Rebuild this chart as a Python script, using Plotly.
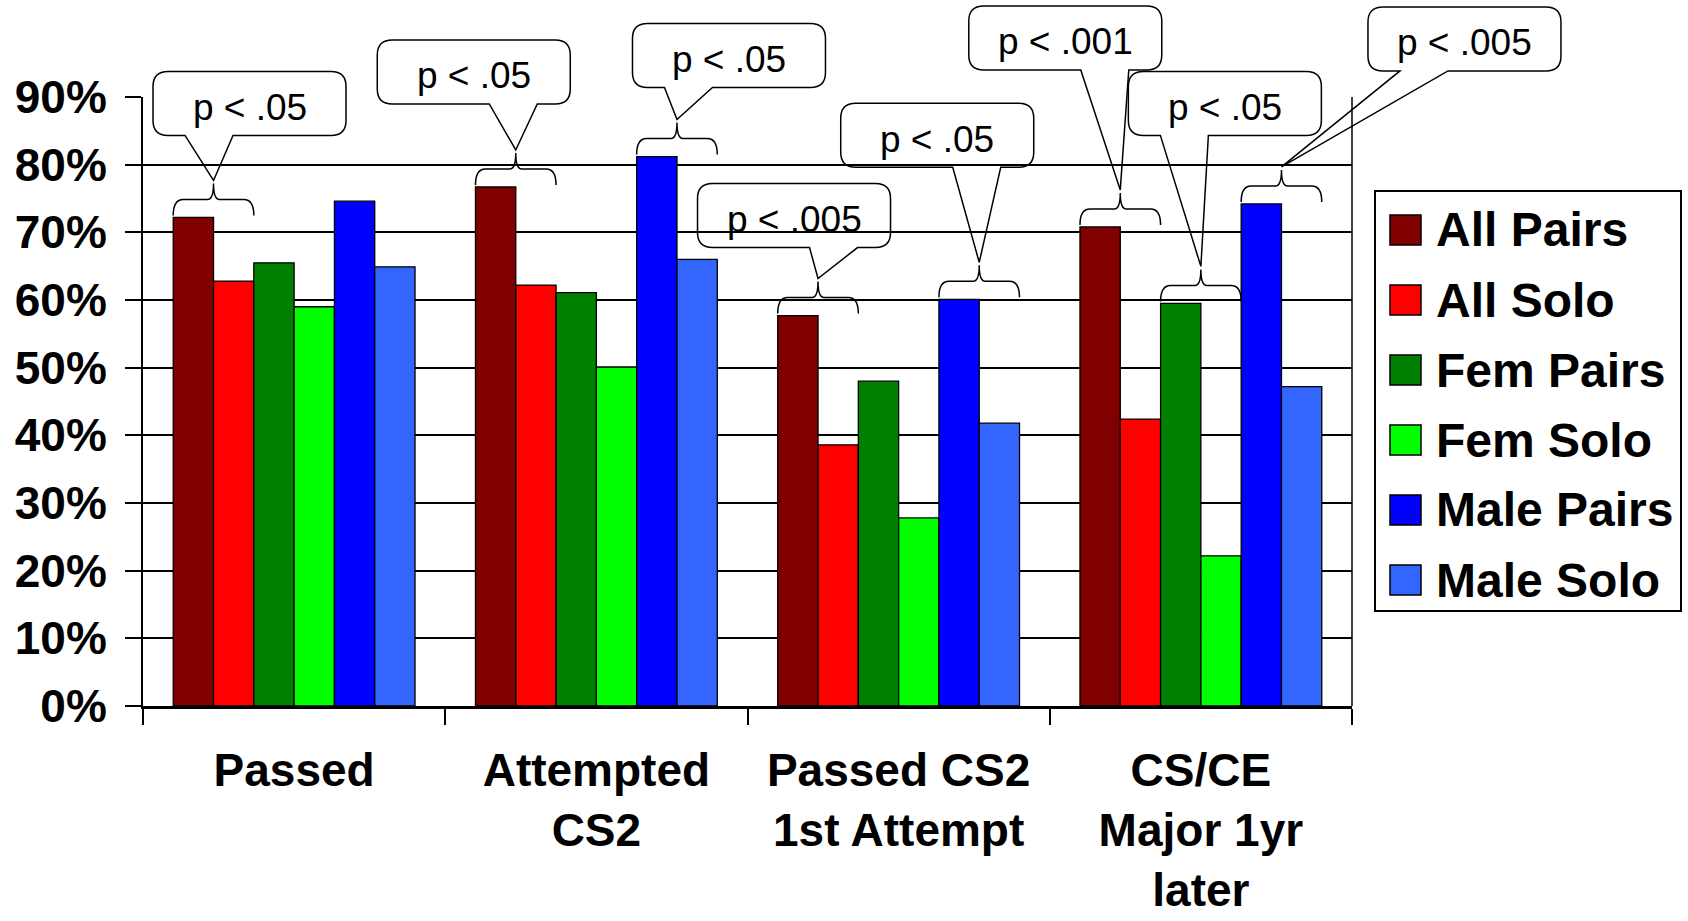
import plotly.graph_objects as go

# ---------------- data ----------------
categories = ["Passed", "Attempted<br>CS2", "Passed CS2<br>1st Attempt", "CS/CE<br>Major 1yr<br>later"]
series_names = ["All Pairs", "All Solo", "Fem Pairs", "Fem Solo", "Male Pairs", "Male Solo"]
all_pairs = [72.2, 76.7, 57.7, 70.8]
all_solo = [62.8, 62.2, 38.6, 42.4]
fem_pairs = [65.5, 61.1, 48.0, 59.5]
fem_solo = [59.0, 50.1, 27.8, 22.2]
male_pairs = [74.6, 81.2, 60.1, 74.2]
male_solo = [64.9, 66.0, 41.8, 47.2]
series_colors = ["#800000", "#FF0000", "#008000", "#00FF00", "#0000FF", "#3366FF"]
y_tick_values = [0, 10, 20, 30, 40, 50, 60, 70, 80, 90]
y_tick_labels = ["0%", "10%", "20%", "30%", "40%", "50%", "60%", "70%", "80%", "90%"]

# significance callouts: category index, first bar of the bracketed pair, label
sig_category = [0, 1, 1, 2, 2, 3, 3, 3]
sig_first_bar = [0, 0, 4, 0, 4, 0, 2, 4]
sig_labels = ["p < .05", "p < .05", "p < .05", "p < .005", "p < .05", "p < .001", "p < .05", "p < .005"]
# callout box offset from the brace tip (pixels) and pointer side
sig_box_dx = [36, -42, 52, -24, -42, -55, 24, 183]
sig_box_dy = [-80, -81, -67, -66, -130, -155, -166, -131]
sig_pointer_side = ["L", "R", "L", "R", "R", "R", "L", "L"]

series_values = [all_pairs, all_solo, fem_pairs, fem_solo, male_pairs, male_solo]

# ---------------- layout geometry ----------------
W, H = 1688, 921
ML, MR, MT, MB = 143, 336, 97, 215
PW, PH = W - ML - MR, H - MT - MB
Y_MAX = 90
BARGAP = 0.2
FONT = "Liberation Sans, Arial, sans-serif"

fig = go.Figure()
for name, vals, col in zip(series_names, series_values, series_colors):
    fig.add_trace(go.Bar(
        name=name, x=categories, y=vals,
        marker=dict(color=col, line=dict(color="black", width=1.3)),
        showlegend=False, hoverinfo="x+y+name",
    ))

# helpers: data -> pixel -> paper
ncat = len(categories)
cat_w = PW / ncat
nser = len(series_names)
bar_w = cat_w * (1 - BARGAP) / nser


def bar_center_px(ci, bj):
    return ML + (ci + 0.5) * cat_w - cat_w * (1 - BARGAP) / 2 + (bj + 0.5) * bar_w


def val_px(v):
    return MT + PH - v / Y_MAX * PH


def P(x, y):
    return f"{(x - ML) / PW:.5f},{(MT + PH - y) / PH:.5f}"


def px_x(x):
    return (x - ML) / PW


def px_y(y):
    return (MT + PH - y) / PH


shapes = []
annotations = []
LW = 1.5
BOX_W, BOX_H, RAD = 193, 64, 15
BRACE_H = 32

for ci, bj, lab, dx, dy, side in zip(sig_category, sig_first_bar, sig_labels,
                                       sig_box_dx, sig_box_dy, sig_pointer_side):
    top_val = max(series_values[bj][ci], series_values[bj + 1][ci])
    yb = val_px(top_val) - 2
    cx = (bar_center_px(ci, bj) + bar_center_px(ci, bj + 1)) / 2
    hw = bar_w
    ym = yb - BRACE_H / 2
    ytip = yb - BRACE_H
    brace = (f"M{P(cx - hw, yb)} Q{P(cx - hw, ym)} {P(cx - hw + 10, ym)} "
             f"L{P(cx - 6, ym)} Q{P(cx, ym)} {P(cx, ytip)} "
             f"Q{P(cx, ym)} {P(cx + 6, ym)} L{P(cx + hw - 10, ym)} "
             f"Q{P(cx + hw, ym)} {P(cx + hw, yb)}")
    shapes.append(dict(type="path", path=brace, xref="paper", yref="paper",
                       line=dict(color="black", width=LW)))
    # callout
    bx, by = cx + dx, ytip + dy
    L, R = bx - BOX_W / 2, bx + BOX_W / 2
    T, B = by - BOX_H / 2, by + BOX_H / 2
    off = 32 if side == "L" else 112
    b1, b2 = L + off, L + off + 48
    tx, ty = cx, ytip - 3
    call = (f"M{P(L + RAD, T)} L{P(R - RAD, T)} Q{P(R, T)} {P(R, T + RAD)} "
            f"L{P(R, B - RAD)} Q{P(R, B)} {P(R - RAD, B)} L{P(b2, B)} "
            f"L{P(tx, ty)} L{P(b1, B)} L{P(L + RAD, B)} Q{P(L, B)} {P(L, B - RAD)} "
            f"L{P(L, T + RAD)} Q{P(L, T)} {P(L + RAD, T)} Z")
    shapes.append(dict(type="path", path=call, xref="paper", yref="paper",
                       line=dict(color="black", width=LW)))
    annotations.append(dict(text=lab, x=px_x(bx), y=px_y(by + 4), xref="paper", yref="paper",
                            xanchor="center", yanchor="middle", showarrow=False,
                            font=dict(family=FONT, size=37, color="black")))

# right border of plot area
shapes.append(dict(type="line", xref="paper", yref="paper", x0=1, x1=1, y0=0, y1=1,
                   line=dict(color="black", width=1.5)))

# legend (drawn manually to get large swatches)
LEG_L, LEG_R, LEG_T, LEG_B = 1375, 1681, 191, 611
shapes.append(dict(type="rect", xref="paper", yref="paper",
                   x0=px_x(LEG_L), x1=px_x(LEG_R), y0=px_y(LEG_B), y1=px_y(LEG_T),
                   line=dict(color="black", width=2), fillcolor="white"))
for k, (name, col) in enumerate(zip(series_names, series_colors)):
    cy = 230 + 70 * k
    shapes.append(dict(type="rect", xref="paper", yref="paper",
                       x0=px_x(1390), x1=px_x(1421), y0=px_y(cy + 15), y1=px_y(cy - 15),
                       line=dict(color="black", width=1.5), fillcolor=col))
    annotations.append(dict(text=name, x=px_x(1434), y=px_y(cy), xref="paper", yref="paper",
                            xanchor="left", yanchor="middle", showarrow=False,
                            font=dict(family=FONT, size=48, color="black", weight="bold")))

fig.update_layout(
    width=W, height=H, autosize=False,
    margin=dict(l=ML, r=MR, t=MT, b=MB, pad=0, autoexpand=False),
    paper_bgcolor="white", plot_bgcolor="white",
    barmode="group", bargap=BARGAP, bargroupgap=0,
    showlegend=False,
    font=dict(family=FONT, color="black"),
    shapes=shapes, annotations=annotations,
)
fig.update_xaxes(
    type="category", range=[-0.5, ncat - 0.5], tickson="boundaries",
    ticks="outside", ticklen=16, tickwidth=1.5, tickcolor="black",
    showline=True, linecolor="black", linewidth=2.5, showgrid=False, zeroline=False,
    ticklabelstandoff=22, automargin=False,
    tickfont=dict(family=FONT, size=46, color="black", weight="bold"),
)
fig.update_yaxes(
    range=[0, Y_MAX], tickvals=y_tick_values, ticktext=y_tick_labels,
    ticks="outside", ticklen=16, tickwidth=1.5, tickcolor="black",
    showline=True, linecolor="black", linewidth=2, zeroline=False,
    showgrid=True, gridcolor="black", gridwidth=1.5,
    ticklabelstandoff=9, automargin=False,
    tickfont=dict(family=FONT, size=46, color="black", weight="bold"),
)

fig.write_html("out.html", config={"displayModeBar": False},
               post_script="document.body.style.margin='0';document.body.style.overflow='hidden';")
